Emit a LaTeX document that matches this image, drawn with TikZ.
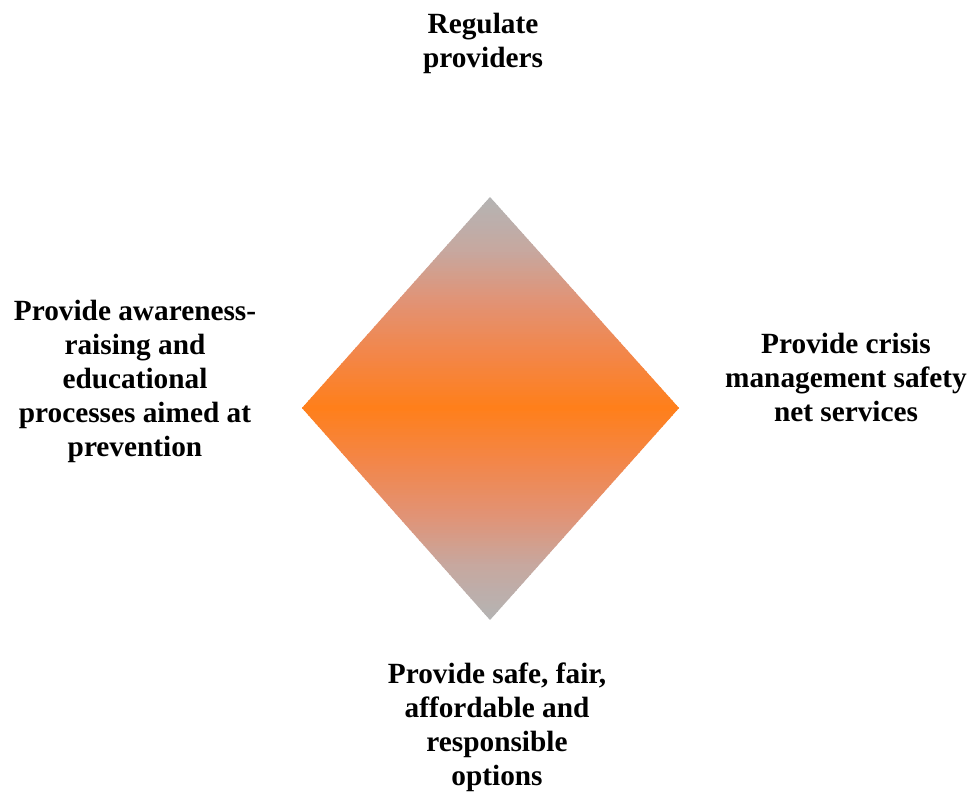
\documentclass[tikz,border=0pt]{standalone}
\usepackage{fontspec}
\setmainfont{Liberation Serif}
% gradient stops from the grey tips to the orange centre line
\definecolor{gradA}{RGB}{180,180,180}
\definecolor{gradB}{RGB}{198,168,160}
\definecolor{gradC}{RGB}{226,146,116}
\definecolor{gradD}{RGB}{243,134,72}
\definecolor{gradE}{RGB}{255,127,26}
\begin{document}
\begin{tikzpicture}[x=1pt,y=1pt,
  label/.style={font=\bfseries\fontsize{29.3}{34}\selectfont, align=center, inner sep=0pt, text=black}]
\useasboundingbox (0,0) rectangle (969,-793);
\coordinate (top) at (490,-197);
\coordinate (right) at (679,-408);
\coordinate (bottom) at (490,-620);
\coordinate (left) at (302,-408);
% diamond filled with a grey-orange-grey vertical gradient built from thin bands
\begin{scope}
  \clip (top) -- (right) -- (bottom) -- (left) -- cycle;
  \foreach \ca/\cb/\s in {gradA/gradB/0, gradB/gradC/1, gradC/gradD/2, gradD/gradE/3}{
    \foreach \j in {0,...,19}{
      \pgfmathsetmacro{\pct}{5*(\j+0.5)}
      \colorlet{bandcol}{\cb!\pct!\ca}
      \pgfmathsetmacro{\k}{20*\s+\j}
      \pgfmathsetmacro{\ya}{-197-2.6375*\k}
      \pgfmathsetmacro{\yb}{-197-2.6375*(\k+1)-0.6}
      \fill[bandcol] (290,\ya) rectangle (690,\yb);
      \pgfmathsetmacro{\yc}{-620+2.65*\k}
      \pgfmathsetmacro{\yd}{-620+2.65*(\k+1)+0.6}
      \fill[bandcol] (290,\yc) rectangle (690,\yd);
    }
  }
\end{scope}
% labels
\node[label] (reg) at (483,-43.5) {Regulate\\providers};
\node[label] (aware) at (135,-381) {Provide awareness-\\raising and\\educational\\processes aimed at\\prevention};
\node[label] (crisis) at (846,-377.5) {Provide crisis\\management safety\\net services};
\node[label] (safe) at (497,-727) {Provide safe, fair,\\affordable and\\responsible\\options};
\end{tikzpicture}
\end{document}
